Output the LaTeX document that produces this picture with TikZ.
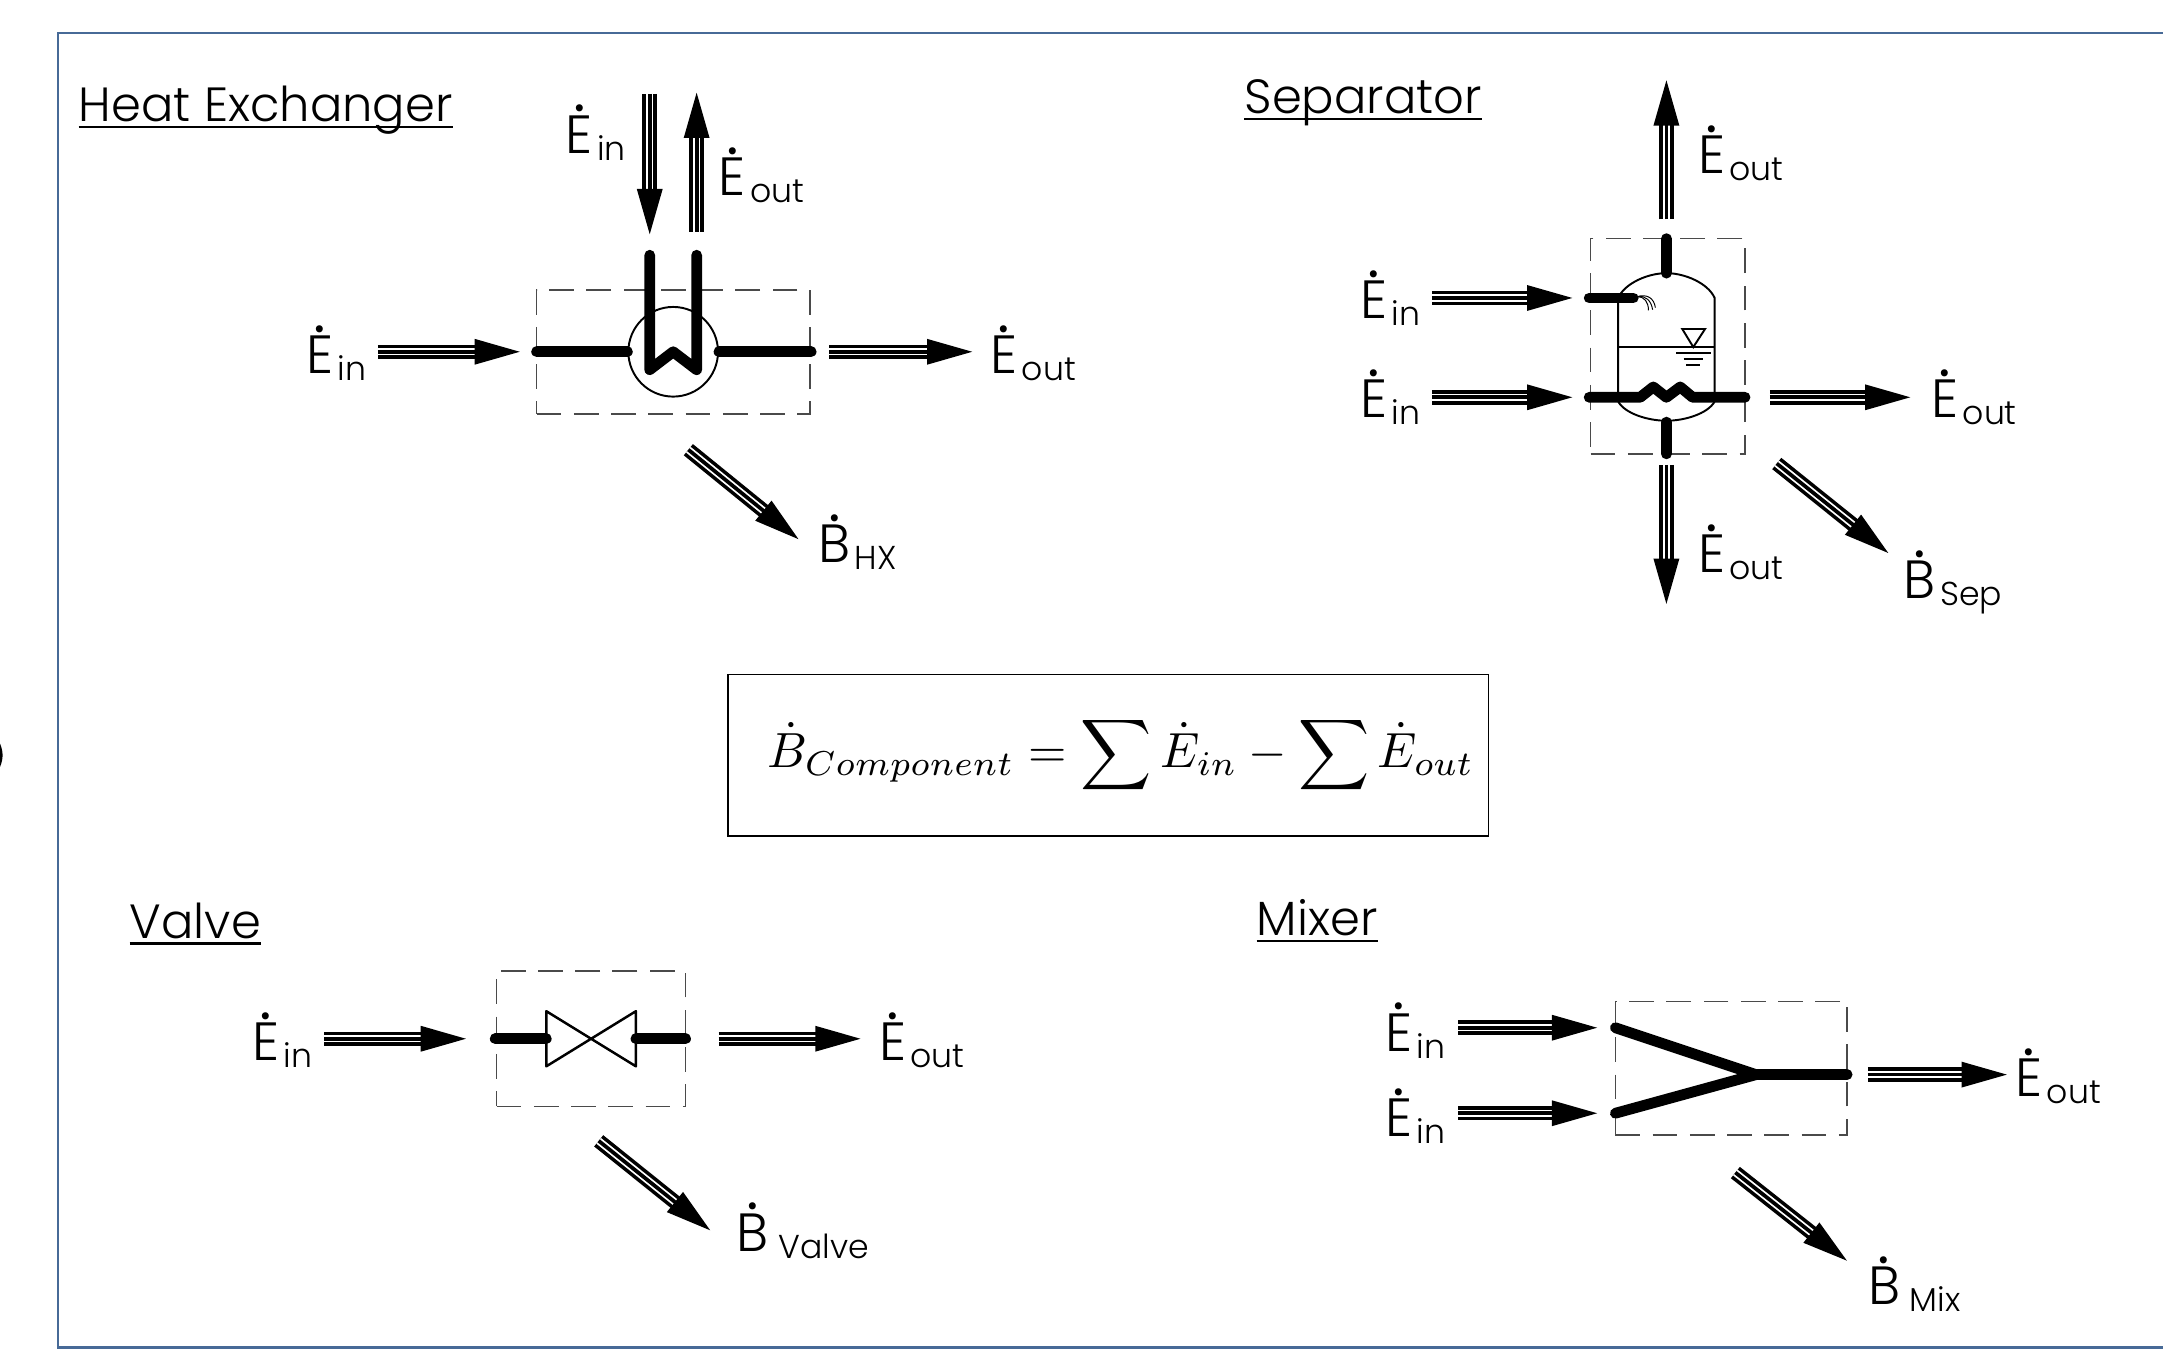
\documentclass[tikz,border=0pt]{standalone}
\usepackage{amsmath}
\usepackage{fontspec}
\usepackage{xcolor}
\usetikzlibrary{arrows.meta}
\setmainfont{Poppins Light}
\definecolor{frame-blue}{HTML}{476A97}
\definecolor{bound-gray}{HTML}{4A4A4A}
\newcommand{\titlefont}{\fontsize{34.8}{38}\selectfont}
\newcommand{\lblfont}{\fontsize{39}{42}\selectfont}
\newcommand{\subfont}{\fontsize{24}{28}\selectfont}
\newcommand{\dotted}[1]{\ooalign{#1\cr\hidewidth\raisebox{30pt}{\fontsize{50}{50}\selectfont .}\hidewidth\cr}}
\newcommand{\flowlabel}[2]{\dotted{#1}\kern3pt\raisebox{-5pt}{\subfont #2}}

\begin{document}
\begin{tikzpicture}[
    x=1pt, y=-1pt,
    frameline/.style={draw=frame-blue, line width=2pt},
    bound/.style={rectangle, draw=bound-gray, line width=1.2pt, dash pattern=on 18pt off 9pt, inner sep=0pt},
    pipe/.style={line width=7.8pt, line cap=round, line join=round},
    thin part/.style={line width=1.4pt},
    flow/.style={line width=2.7pt, -{Triangle[length=33pt,width=18pt]},
        preaction={draw, -, line width=10.5pt, shorten >=30pt},
        preaction={draw, -, line width=5.3pt, shorten >=30pt, white}},
    lbl/.style={anchor=base west, inner sep=0pt, font=\lblfont},
    heading/.style={anchor=base west, inner sep=0pt, font=\titlefont},
    headline/.style={line width=1.6pt}
]
    \useasboundingbox (0,0) rectangle (1568,978);
    \draw[frameline] (1575,24) -- (42,24) -- (42,977) -- (1575,977);
    \fill (0,539) .. controls (2.5,545) and (2.5,550) .. (0,556) -- cycle;

    \node[heading] (hxtitle) at (57,88) {Heat Exchanger};
    \node[heading] (septitle) at (902,82) {Separator};
    \node[heading] (valvetitle) at (94,680) {Valve};
    \node[heading] (mixtitle) at (911,678) {Mixer};
    \draw[headline] ([yshift=-4pt]hxtitle.base west) -- ([yshift=-4pt]hxtitle.base east);
    \draw[headline] ([yshift=-4pt]septitle.base west) -- ([yshift=-4pt]septitle.base east);
    \draw[headline] ([yshift=-4pt]valvetitle.base west) -- ([yshift=-4pt]valvetitle.base east);
    \draw[headline] ([yshift=-4pt]mixtitle.base west) -- ([yshift=-4pt]mixtitle.base east);

    \node[rectangle, draw, line width=1.3pt, minimum width=551pt, minimum height=117pt, inner sep=0pt] (balance) at (803.5,547.5)
        {\hspace{18pt}\scalebox{3.58}{$\displaystyle \dot{B}_{Component} = \sum \dot{E}_{in} - \sum \dot{E}_{out}$}};

    % heat exchanger
    \node[bound, minimum width=198pt, minimum height=90pt] (hxbox) at (488,255) {};
    \node[circle, draw, thin part, minimum size=65pt, inner sep=0pt] (hxcoil) at (488,255) {};
    \draw[pipe] (389,255) -- (hxcoil.west);
    \draw[pipe] (hxcoil.east) -- (588,255);
    \draw[pipe] (471,185) -- (471,268) -- (488,255) -- (505,268) -- (505,185);
    \coordinate (hxa) at (274,255);
    \coordinate (hxb) at (377,255);
    \coordinate (hxc) at (601,255);
    \coordinate (hxd) at (705,255);
    \coordinate (hxe) at (471,68);
    \coordinate (hxf) at (471,170);
    \coordinate (hxg) at (505,168);
    \coordinate (hxh) at (505,67);
    \coordinate (hxi) at (499,326);
    \coordinate (hxj) at (579,391);
    \draw[flow] (hxa) -- (hxb);
    \draw[flow] (hxc) -- (hxd);
    \draw[flow] (hxe) -- (hxf);
    \draw[flow] (hxg) -- (hxh);
    \draw[flow] (hxi) -- (hxj);
    \node[lbl] (hxl1) at (222,271) {\flowlabel{E}{in}};
    \node[lbl] (hxl2) at (718,271) {\flowlabel{E}{out}};
    \node[lbl] (hxl3) at (410,111) {\flowlabel{E}{in}};
    \node[lbl] (hxl4) at (521,142) {\flowlabel{E}{out}};
    \node[lbl] (hxl5) at (593,408) {\flowlabel{B}{HX}};

    % separator
    \node[bound, minimum width=112pt, minimum height=156pt] (sepbox) at (1209,251) {};
    \draw[thin part] (1173,216) .. controls (1178,205) and (1195,198) .. (1208,198) .. controls (1221,198) and (1238,205) .. (1243,216) -- (1243,291) .. controls (1238,300) and (1221,305) .. (1208,305) .. controls (1195,305) and (1178,300) .. (1173,291) -- cycle;
    \draw[thin part] (1173,251.6) -- (1243,251.6);
    \draw[thin part] (1219.5,238.5) -- (1236,238.5) -- (1227.5,251.6) -- cycle;
    \draw[thin part] (1215,256) -- (1240,256);
    \draw[thin part] (1220.5,260.5) -- (1234.5,260.5);
    \draw[thin part] (1222.5,264.6) -- (1232.5,264.6);
    \draw[line width=.7pt] (1187,215) .. controls (1192,215) and (1195,219) .. (1195,225);
    \draw[line width=.7pt] (1187,215) .. controls (1193,214) and (1197,218) .. (1198,224.5);
    \draw[line width=.7pt] (1187,215) .. controls (1194,213) and (1199,216) .. (1200,223);
    \draw[pipe] (1152,216) -- (1184,216);
    \draw[pipe] (1152,288) -- (1189,288) -- (1198.5,280.5) -- (1208,288) -- (1218,280.5) -- (1227,288) -- (1265,288);
    \draw[pipe] (1208,173) -- (1208,198);
    \draw[pipe] (1208,306) -- (1208,329);
    \coordinate (sepa) at (1038,216);
    \coordinate (sepb) at (1140,216);
    \coordinate (sepc) at (1038,288);
    \coordinate (sepd) at (1140,288);
    \coordinate (sepe) at (1283,288);
    \coordinate (sepf) at (1385,288);
    \coordinate (sepg) at (1208,159);
    \coordinate (seph) at (1208,58);
    \coordinate (sepi) at (1208,337);
    \coordinate (sepj) at (1208,438);
    \coordinate (sepk) at (1288,336);
    \coordinate (sepm) at (1369,401);
    \draw[flow] (sepa) -- (sepb);
    \draw[flow] (sepc) -- (sepd);
    \draw[flow] (sepe) -- (sepf);
    \draw[flow] (sepg) -- (seph);
    \draw[flow] (sepi) -- (sepj);
    \draw[flow] (sepk) -- (sepm);
    \node[lbl] (sepl1) at (986,231) {\flowlabel{E}{in}};
    \node[lbl] (sepl2) at (986,303) {\flowlabel{E}{in}};
    \node[lbl] (sepl3) at (1400,303) {\flowlabel{E}{out}};
    \node[lbl] (sepl4) at (1231,126) {\flowlabel{E}{out}};
    \node[lbl] (sepl5) at (1231,415) {\flowlabel{E}{out}};
    \node[lbl] (sepl6) at (1380,434) {\flowlabel{B}{Sep}};

    % valve
    \node[bound, minimum width=137pt, minimum height=98pt] (valvebox) at (428.5,753) {};
    \draw[line width=1.8pt, line join=round] (396,733) -- (461,773) -- (461,733) -- (396,773) -- cycle;
    \draw[pipe] (359,753) -- (396,753);
    \draw[pipe] (461,753) -- (497,753);
    \coordinate (vala) at (235,753);
    \coordinate (valb) at (338,753);
    \coordinate (valc) at (521,753);
    \coordinate (vald) at (624,753);
    \coordinate (vale) at (434,827);
    \coordinate (valf) at (515,892);
    \draw[flow] (vala) -- (valb);
    \draw[flow] (valc) -- (vald);
    \draw[flow] (vale) -- (valf);
    \node[lbl] (vall1) at (183,769) {\flowlabel{E}{in}};
    \node[lbl] (vall2) at (637,769) {\flowlabel{E}{out}};
    \node[lbl] (vall3) at (534,907) {\flowlabel{B}{\,Valve}};

    % mixer
    \node[bound, minimum width=168pt, minimum height=97pt] (mixbox) at (1255,774.5) {};
    \draw[pipe] (1171,745) -- (1273,779) -- (1171,807);
    \draw[pipe] (1273,779) -- (1339,779);
    \coordinate (mixa) at (1057,745);
    \coordinate (mixb) at (1158,745);
    \coordinate (mixc) at (1057,807);
    \coordinate (mixd) at (1158,807);
    \coordinate (mixe) at (1354,779);
    \coordinate (mixf) at (1455,779);
    \coordinate (mixg) at (1258,850);
    \coordinate (mixh) at (1339,914);
    \draw[flow] (mixa) -- (mixb);
    \draw[flow] (mixc) -- (mixd);
    \draw[flow] (mixe) -- (mixf);
    \draw[flow] (mixg) -- (mixh);
    \node[lbl] (mixl1) at (1004,762) {\flowlabel{E}{in}};
    \node[lbl] (mixl2) at (1004,824) {\flowlabel{E}{in}};
    \node[lbl] (mixl3) at (1461,795) {\flowlabel{E}{out}};
    \node[lbl] (mixl4) at (1354,946) {\flowlabel{B}{\,Mix}};
\end{tikzpicture}
\end{document}
